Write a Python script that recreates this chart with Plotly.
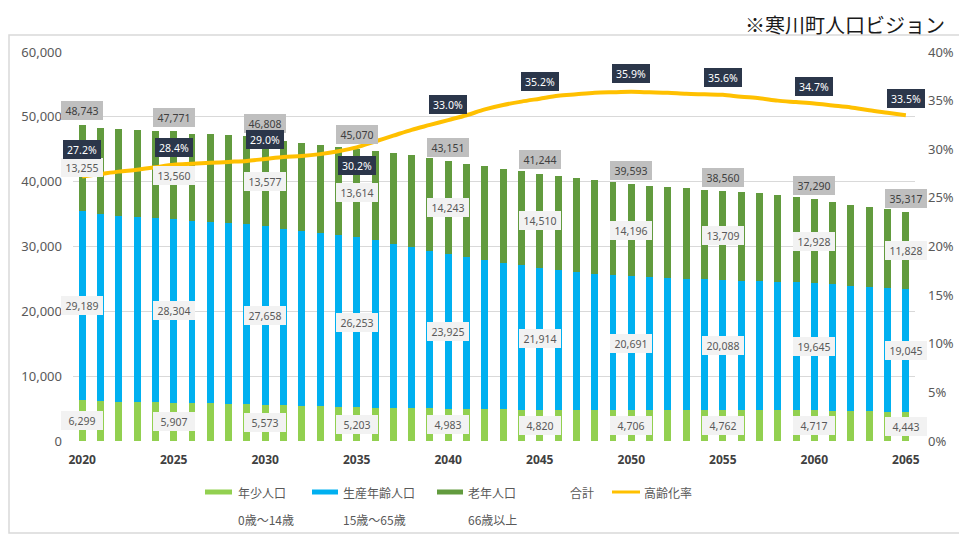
import plotly.graph_objects as go

# ---------------- data ----------------
years = list(range(2020, 2066))

young = [6299, 6170, 6060, 6000, 5950, 5907, 5860, 5790, 5700, 5640,
         5573, 5500, 5420, 5350, 5280, 5203, 5150, 5100, 5060, 5020,
         4983, 4950, 4920, 4890, 4850, 4820, 4790, 4770, 4750, 4730,
         4706, 4720, 4740, 4750, 4760, 4762, 4760, 4750, 4740, 4730,
         4717, 4670, 4620, 4570, 4510, 4443]

working = [29189, 28860, 28720, 28580, 28450, 28304, 28040, 27990, 27960, 27810,
           27658, 27270, 27030, 26810, 26520, 26253, 25824, 25286, 24866, 24345,
           23925, 23460, 23030, 22590, 22240, 21914, 21600, 21280, 21060, 20820,
           20691, 20570, 20430, 20300, 20180, 20088, 19990, 19960, 19840, 19790,
           19645, 19494, 19298, 19254, 19120, 19045]

elderly = [13255, 13270, 13320, 13370, 13450, 13560, 13500, 13520, 13540, 13550,
           13577, 13530, 13500, 13500, 13550, 13614, 13770, 14050, 14150, 14300,
           14243, 14390, 14470, 14520, 14550, 14510, 14460, 14480, 14410, 14330,
           14196, 14080, 14060, 13910, 13800, 13709, 13600, 13480, 13350, 13190,
           12928, 12710, 12540, 12270, 12100, 11828]

total = [48743, 48300, 48100, 47950, 47850, 47771, 47400, 47300, 47200, 47000,
         46808, 46300, 45950, 45660, 45350, 45070, 44744, 44436, 44076, 43665,
         43151, 42800, 42420, 42000, 41640, 41244, 40850, 40530, 40220, 39880,
         39593, 39370, 39230, 38960, 38740, 38560, 38350, 38190, 37930, 37710,
         37290, 36874, 36458, 36094, 35730, 35317]

aging_rate = [27.2, 27.45, 27.7, 27.9, 28.15, 28.4, 28.5, 28.6, 28.7, 28.8,
              29.0, 29.2, 29.3, 29.5, 29.8, 30.2, 30.8, 31.4, 32.0, 32.5,
              33.0, 33.5, 34.1, 34.55, 34.9, 35.2, 35.5, 35.65, 35.8, 35.86,
              35.9, 35.85, 35.8, 35.7, 35.65, 35.6, 35.4, 35.25, 35.0, 34.85,
              34.7, 34.5, 34.3, 34.0, 33.75, 33.5]

label_years = [2020, 2025, 2030, 2035, 2040, 2045, 2050, 2055, 2060, 2065]

left_ticks = [0, 10000, 20000, 30000, 40000, 50000, 60000]
left_tick_text = ["0", "10,000", "20,000", "30,000", "40,000", "50,000", "60,000"]
right_ticks = [0, 5, 10, 15, 20, 25, 30, 35, 40]
right_tick_text = ["0%", "5%", "10%", "15%", "20%", "25%", "30%", "35%", "40%"]

series_names = ["年少人口", "生産年齢人口", "老年人口", "合計", "高齢化率"]
series_sub = ["0歳〜14歳", "15歳〜65歳", "66歳以上"]
title_text = "※寒川町人口ビジョン"

# ---------------- styles ----------------
C_YOUNG = "#92D050"
C_WORK = "#00B0F0"
C_OLD = "#629B3E"
C_RATE = "#FFC000"
NUM_FONT = "Noto Sans"
JP_FONT = "Noto Sans CJK JP"

# rate label vertical offsets (px) – layout only
rate_shift = [27, 17, 19, -18, 16, 17, 18, 17, 17, 17]

# the page body has an 8px margin: the figure is drawn 8px in from the window edge
OFF = 8
W, H = 967 - OFF, 540 - OFF
# plot area in window pixels
PL, PR, PT, PB = 73, 915, 52, 441


def px2paper(px, py):
    return (px - PL) / (PR - PL), (PB - py) / (PB - PT)


fig = go.Figure()
for vals, col, nm in [(young, C_YOUNG, series_names[0]),
                      (working, C_WORK, series_names[1]),
                      (elderly, C_OLD, series_names[2])]:
    fig.add_bar(x=years, y=vals, name=nm, marker_color=col,
                marker_line_width=0, width=0.38, showlegend=False,
                hoverinfo="skip")

fig.add_scatter(x=years, y=aging_rate, yaxis="y2", mode="lines",
                name=series_names[4], showlegend=False,
                line=dict(color=C_RATE, width=4, shape="spline", smoothing=0.9),
                hoverinfo="skip")

annotations = []
idx = {y: i for i, y in enumerate(years)}


def box(x, y, text, bg, fc, yref="y", yshift=0, w=36):
    return dict(x=x, y=y, xref="x", yref=yref, text=text, showarrow=False,
                bgcolor=bg, font=dict(family=NUM_FONT, size=10.5, color=fc),
                borderpad=3, width=w, height=13, yshift=yshift, borderwidth=0)


for k, yr in enumerate(label_years):
    i = idx[yr]
    y0 = young[i]
    w0 = working[i]
    o0 = elderly[i]
    annotations.append(box(yr, y0 / 2, f"{y0:,}", "#F2F2F2", "#595959"))
    annotations.append(box(yr, y0 + w0 / 2, f"{w0:,}", "#F2F2F2", "#595959"))
    annotations.append(box(yr, y0 + w0 + o0 / 2, f"{o0:,}", "#F2F2F2", "#595959"))
    annotations.append(box(yr, total[i], f"{total[i]:,}", "#BFBFBF", "#404040", yshift=14))
    annotations.append(box(yr, aging_rate[i], f"{aging_rate[i]:.1f}%", "#2B364A", "#FFFFFF",
                           yref="y2", yshift=rate_shift[k], w=32))

# title (anchored to the top of the figure so it is not clipped)
tx, ty = px2paper(947, OFF)
annotations.append(dict(x=tx, y=ty, xref="paper", yref="paper", xanchor="right",
                        yanchor="top", text=title_text, showarrow=False,
                        font=dict(family=JP_FONT, size=20, color="#1A1A1A")))

# chart border + manual legend
shapes = []
bx0, by0 = px2paper(9, 35)
bx1, by1 = px2paper(961, 533)
shapes.append(dict(type="rect", xref="paper", yref="paper", x0=bx0, y0=by0, x1=bx1, y1=by1,
                   line=dict(color="#D9D9D9", width=1.5), fillcolor="rgba(0,0,0,0)", layer="below"))

legend_items = [
    (205, 232, C_YOUNG, "rect", 236, series_names[0], series_sub[0]),
    (312, 338, C_WORK, "rect", 341, series_names[1], series_sub[1]),
    (437, 463, C_OLD, "rect", 466, series_names[2], series_sub[2]),
    (None, None, None, None, 568, series_names[3], None),
    (612, 640, C_RATE, "line", 642, series_names[4], None),
]
ROW1, ROW2 = 492, 519
for x0, x1, col, kind, tx0, lab, sub in legend_items:
    if kind == "rect":
        a0, b0 = px2paper(x0, ROW1 - 2.5)
        a1, b1 = px2paper(x1, ROW1 + 2.5)
        shapes.append(dict(type="rect", xref="paper", yref="paper", x0=a0, x1=a1,
                           y0=b1, y1=b0, fillcolor=col, line=dict(width=0)))
    elif kind == "line":
        a0, b0 = px2paper(x0, ROW1)
        a1, _ = px2paper(x1, ROW1)
        shapes.append(dict(type="line", xref="paper", yref="paper", x0=a0, x1=a1,
                           y0=b0, y1=b0, line=dict(color=col, width=3)))
    lx, ly = px2paper(tx0, ROW1)
    annotations.append(dict(x=lx, y=ly, xref="paper", yref="paper", xanchor="left",
                            yanchor="middle", text=lab, showarrow=False,
                            font=dict(family=JP_FONT, size=12, color="#595959")))
    if sub:
        sx, sy = px2paper(tx0, ROW2)
        annotations.append(dict(x=sx, y=sy, xref="paper", yref="paper", xanchor="left",
                                yanchor="middle", text=sub, showarrow=False,
                                font=dict(family=JP_FONT, size=12, color="#595959")))

fig.update_layout(
    width=W, height=H, template="none",
    paper_bgcolor="white", plot_bgcolor="white",
    barmode="stack", bargap=0.6,
    margin=dict(l=PL - OFF, r=967 - PR, t=PT - OFF, b=540 - PB, autoexpand=False),
    showlegend=False,
    xaxis=dict(range=[2019.5, 2065.5], tickvals=label_years,
               ticktext=[f"<b>{y}</b>" for y in label_years],
               tickfont=dict(family=NUM_FONT, size=12, color="#404040"),
               showgrid=False, zeroline=False, showline=False, ticks="",
               ticklabelstandoff=10),
    yaxis=dict(range=[0, 60000], tickvals=left_ticks, ticktext=left_tick_text,
               tickfont=dict(family=NUM_FONT, size=13, color="#595959"),
               showgrid=True, gridcolor="#D9D9D9", gridwidth=1, zeroline=False,
               showline=False, ticks="", ticklabelstandoff=10),
    yaxis2=dict(range=[0, 40], tickvals=right_ticks, ticktext=right_tick_text,
                overlaying="y", side="right", showgrid=False, zeroline=False,
                tickfont=dict(family=NUM_FONT, size=13, color="#595959"),
                showline=False, ticks="", ticklabelstandoff=12),
    annotations=annotations, shapes=shapes,
)

fig.write_html("out.html")
